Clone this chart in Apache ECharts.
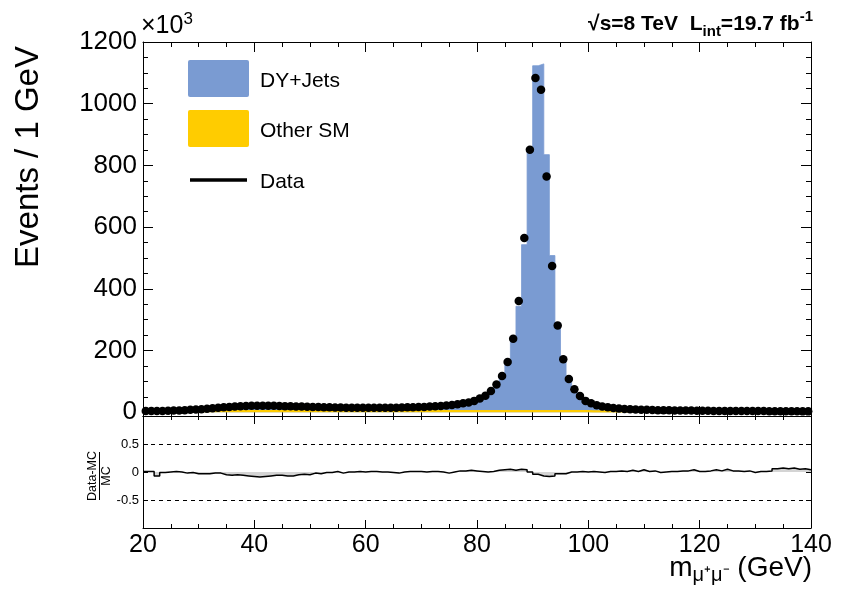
<!DOCTYPE html>
<html><head><meta charset="utf-8">
<script src="https://cdn.jsdelivr.net/npm/echarts@6/dist/echarts.min.js"></script>
<style>html,body{margin:0;padding:0;background:#fff}#c{width:845px;height:589px}</style>
</head><body><div id="c"></div>
<script>
// ---- data (values in thousands of events per 1 GeV bin, bins 20..140 GeV) ----
const binLow = [];
for (let m = 20; m < 140; m++) binLow.push(m);

const dataVals = [
  4, 4, 4.5, 4.5, 5, 5.5, 6, 7, 8, 9,
  10, 11.5, 13, 14.5, 16, 17, 18.5, 19.5, 20.5, 21,
  21.5, 21.5, 21.5, 21, 20.5, 20, 19.5, 19, 18.5, 18,
  17.5, 17, 16.5, 16, 15.5, 15.5, 15, 15, 14.5, 14.5,
  14.5, 14.5, 14.5, 14.5, 15, 15, 15.5, 16, 16.5, 17,
  17.5, 18.5, 19.5, 20.5, 22, 24, 26, 29, 32, 37,
  45, 54, 69, 90, 118, 163, 238, 361, 565, 851,
  1083, 1045, 764, 474, 281, 172, 108, 75, 52.5, 37,
  29, 23, 19, 16, 14, 12.5, 11, 10, 9, 8.5,
  8, 7.5, 7, 6.5, 6.5, 6, 6, 5.5, 5.5, 5,
  5, 5, 4.5, 4.5, 4.5, 4.5, 4, 4, 4, 4,
  4, 4, 3.5, 3.5, 3.5, 3.5, 3.5, 3.5, 3, 3
];

const dyVals = [
  0.5, 0.5, 1.3, 1.0, 1.5, 1.9, 2.5, 3.6, 4.6, 5.8,
  6.3, 7.9, 9.3, 10.8, 12.8, 14.1, 15.5, 16.7, 18.0, 18.8,
  19.6, 19.4, 19.1, 18.3, 17.8, 17.5, 17.0, 16.0, 15.3, 14.9,
  13.9, 13.5, 12.7, 12.2, 11.3, 11.8, 11.0, 11.0, 10.4, 10.5,
  10.4, 10.4, 10.5, 10.5, 11.2, 11.3, 11.5, 11.8, 12.3, 12.8,
  13.5, 14.3, 15.3, 16.5, 18.4, 20.0, 21.5, 24.4, 27.1, 32.3,
  40.1, 49.5, 63.8, 82.9, 109, 150.7, 226.5, 339.3, 538.8, 846.5,
  1118.5, 1124.5, 830.5, 503.5, 285.2, 172.8, 103.5, 70.5, 47.5, 32.5,
  25.2, 19.5, 15.7, 12.3, 10.4, 8.8, 7.4, 6.2, 5.4, 4.7,
  4.4, 3.9, 3.6, 3.0, 2.9, 2.4, 2.4, 1.9, 1.8, 1.5,
  2.45, 2.4, 1.8, 1.9, 1.8, 1.9, 1.4, 1.5, 1.4, 1.5,
  1.5, 1.5, 0.9, 0.8, 0.8, 0.8, 0.8, 0.8, 0.3, 0.4
];

const otherVals = [
  3.5, 3.5, 3.5, 3.5, 3.5, 3.5, 3.5, 3.5, 3.5, 3.5,
  4, 4, 4, 4, 4, 4, 4, 4, 4, 4,
  4, 4, 4, 4, 4, 4, 4, 4, 4, 4,
  4, 4, 4, 4, 4, 4, 4, 4, 4, 4,
  4, 4, 4, 4, 4, 4, 4, 4, 4, 4,
  4, 4, 4, 4, 4, 4, 4, 4, 4, 4,
  4.5, 4.5, 4.5, 4.5, 4.5, 4.5, 4.5, 4.5, 4.5, 4.5,
  4.5, 4.5, 4.5, 4.5, 4.5, 4.5, 4.5, 4.5, 4.5, 4.5,
  3.5, 3.5, 3.5, 3.5, 3.5, 3.5, 3.5, 3.5, 3.5, 3.5,
  3.5, 3.5, 3.5, 3.5, 3.5, 3.5, 3.5, 3.5, 3.5, 3.5,
  2.5, 2.5, 2.5, 2.5, 2.5, 2.5, 2.5, 2.5, 2.5, 2.5,
  2.5, 2.5, 2.5, 2.5, 2.5, 2.5, 2.5, 2.5, 2.5, 2.5
];

// (Data-MC)/MC per bin
const ratioVals = [
  0.01, 0.01, -0.07, -0.01, 0, 0.01, 0, -0.02, -0.01, -0.03,
  -0.03, -0.03, -0.02, -0.02, -0.05, -0.06, -0.05, -0.06, -0.07, -0.08,
  -0.09, -0.08, -0.07, -0.06, -0.06, -0.07, -0.07, -0.05, -0.04, -0.05,
  -0.02, -0.03, -0.01, -0.01, 0.01, -0.02, 0, 0, 0.01, 0,
  0.01, 0.01, 0, 0, -0.01, -0.02, 0, 0.01, 0.01, 0.01,
  0, 0.01, 0.01, 0, -0.02, 0, 0.02, 0.02, 0.03, 0.02,
  0.01, 0, 0.01, 0.03, 0.04, 0.05, 0.03, 0.05, 0.04, 0,
  -0.04, -0.07, -0.08, -0.07, -0.03, -0.03, 0, 0, 0.01, 0,
  0.01, 0, -0.01, 0.01, 0.01, 0.02, 0.01, 0.03, 0.01, 0.04,
  0.01, 0.02, -0.01, 0, 0.01, 0.01, 0.02, 0.02, 0.04, 0.01,
  0.01, 0.02, 0.04, 0.02, 0.05, 0.02, 0.02, 0.01, 0.02, -0.01,
  0.01, 0.01, 0.02, 0.06, 0.07, 0.06, 0.07, 0.05, 0.06, 0.04
];

const xTickVals = [20, 40, 60, 80, 100, 120, 140];
const yLabelVals = [0, 200, 400, 600, 800, 1000, 1200];
const yMinorVals = [];
for (let v = 0; v <= 1200; v += 50) yMinorVals.push(v);
const ratioLabelVals = [-0.5, 0, 0.5];

// ---- chart ----
const FONT = '"Liberation Sans", Arial, Helvetica, sans-serif';
const BLUE = '#7a9bd2';
const YELLOW = '#ffcc00';
const chart = echarts.init(document.getElementById('c'), null, {renderer: 'canvas'});
const cats = binLow.map(String);
const lastEdge = binLow[binLow.length - 1] + 1;
function stepSeries(vals) {
  const pts = binLow.map((b, i) => [b, vals[i]]);
  pts.push([lastEdge, vals[vals.length - 1]]);
  return pts;
}
// stacked MC: DY+Jets drawn on top of Other SM
const mcTotal = dyVals.map((v, i) => v + otherVals[i]);

const blk = {color: '#000', width: 1};
function valX(grid, pos, showLabel, tickLen, minorLen) {
  return {
    type: 'value', gridIndex: grid, position: pos,
    min: xTickVals[0], max: xTickVals[xTickVals.length - 1], interval: 20,
    axisLine: {show: true, onZero: false, lineStyle: blk},
    axisTick: {show: true, inside: true, length: tickLen, lineStyle: blk},
    minorTick: {show: true, splitNumber: 4, length: minorLen, lineStyle: blk},
    splitLine: {show: false},
    axisLabel: showLabel ? {show: true, fontSize: 25, color: '#000', fontFamily: FONT, margin: 5,
                            formatter: v => String(v)} : {show: false}
  };
}
function mainY(pos, major, lineShow, labels) {
  return {
    type: 'value', gridIndex: 0, position: pos, min: -12, max: 1200,
    axisLine: {show: lineShow, onZero: false, lineStyle: blk},
    axisTick: {show: true, inside: true, length: major ? 10 : 5, lineStyle: blk,
               customValues: major ? yLabelVals : yMinorVals},
    axisLabel: labels ? {show: true, customValues: yLabelVals, fontSize: 26, color: '#000',
                         fontFamily: FONT, margin: 6, formatter: v => String(v)} : {show: false},
    splitLine: {show: false}
  };
}

chart.setOption({
  animation: false,
  backgroundColor: '#fff',
  grid: [
    {left: 143, right: 34, top: 42, height: 374},
    {left: 143, right: 34, top: 416, height: 112}
  ],
  xAxis: [
    valX(0, 'bottom', false, 10, 5),
    valX(0, 'top', false, 10, 5),
    {type: 'category', gridIndex: 0, data: cats, show: false, boundaryGap: true},
    valX(1, 'bottom', true, 8, 4),
    valX(1, 'top', false, 8, 4)
  ],
  yAxis: [
    mainY('left', true, true, true),
    mainY('left', false, false, false),
    mainY('right', true, true, false),
    mainY('right', false, false, false),
    {
      type: 'value', gridIndex: 1, position: 'left', min: -1, max: 1,
      axisLine: {show: true, onZero: false, lineStyle: blk},
      axisTick: {show: true, inside: true, length: 5, lineStyle: blk, customValues: ratioLabelVals},
      axisLabel: {show: true, customValues: ratioLabelVals, fontSize: 13, color: '#000', fontFamily: FONT, margin: 4,
                  formatter: v => String(v)},
      splitLine: {show: false}
    },
    {
      type: 'value', gridIndex: 1, position: 'right', min: -1, max: 1,
      axisLine: {show: true, onZero: false, lineStyle: blk},
      axisTick: {show: true, inside: true, length: 5, lineStyle: blk, customValues: ratioLabelVals},
      axisLabel: {show: false},
      splitLine: {show: false}
    }
  ],
  series: [
    {
      name: 'DY+Jets', type: 'line', step: 'end', xAxisIndex: 0, yAxisIndex: 0,
      data: stepSeries(mcTotal), symbol: 'none',
      lineStyle: {color: BLUE, width: 0.8}, areaStyle: {color: BLUE, opacity: 1, origin: 0}, z: 2
    },
    {
      name: 'Other SM', type: 'line', step: 'end', xAxisIndex: 0, yAxisIndex: 0,
      data: stepSeries(otherVals), symbol: 'none',
      lineStyle: {color: YELLOW, width: 2}, areaStyle: {color: YELLOW, opacity: 1, origin: 0}, z: 3
    },
    {
      name: 'Data', type: 'scatter', xAxisIndex: 2, yAxisIndex: 0,
      data: dataVals, symbol: 'circle', symbolSize: 8.5,
      itemStyle: {color: '#000', opacity: 1}, z: 5
    },
    {
      name: 'ratio', type: 'line', xAxisIndex: 3, yAxisIndex: 4,
      data: stepSeries(ratioVals), step: 'end', symbol: 'none',
      lineStyle: {color: '#000', width: 1.5},
      areaStyle: {color: 'rgba(120,120,120,0.45)', origin: 0}, z: 3,
      markLine: {
        silent: true, symbol: 'none', label: {show: false},
        lineStyle: {type: [4, 4], color: '#000', width: 1},
        data: [{yAxis: 0.5}, {yAxis: -0.5}]
      }
    }
  ],
  graphic: [
    // legend
    {type: 'rect', shape: {x: 188, y: 60, width: 61, height: 37, r: 2}, style: {fill: BLUE}},
    {type: 'rect', shape: {x: 188, y: 110, width: 61, height: 37, r: 2}, style: {fill: YELLOW}},
    {type: 'line', shape: {x1: 190, y1: 180, x2: 247, y2: 180}, style: {stroke: '#000', lineWidth: 3.5}},
    {type: 'text', style: {text: 'DY+Jets', x: 260, y: 81, fontSize: 21, fontFamily: FONT, fill: '#000', verticalAlign: 'middle'}},
    {type: 'text', style: {text: 'Other SM', x: 260, y: 131, fontSize: 21, fontFamily: FONT, fill: '#000', verticalAlign: 'middle'}},
    {type: 'text', style: {text: 'Data', x: 260, y: 182, fontSize: 21, fontFamily: FONT, fill: '#000', verticalAlign: 'middle'}},
    // y title
    {type: 'text', x: 29, y: 157, rotation: Math.PI / 2,
     style: {text: 'Events / 1 GeV', x: 0, y: 0, align: 'center', verticalAlign: 'middle', fontSize: 33, fontFamily: FONT, fill: '#000'}},
    // x10^3
    {type: 'text', style: {text: '{b|×10}{p|3}', x: 141, y: 26, verticalAlign: 'middle', fill: '#000',
      rich: {b: {fontSize: 25, fontFamily: FONT, lineHeight: 30, verticalAlign: 'middle'},
             p: {fontSize: 17, fontFamily: FONT, lineHeight: 16, verticalAlign: 'top'}}}},
    // energy / lumi
    {type: 'text', style: {text: '{b|√s=8 TeV  L}{s|int}{b|=19.7 fb}{p|-1}', x: 813, y: 24, align: 'right', verticalAlign: 'middle', fill: '#000',
      rich: {b: {fontSize: 21, fontWeight: 'bold', fontFamily: FONT, lineHeight: 30, verticalAlign: 'middle'},
             s: {fontSize: 15, fontWeight: 'bold', fontFamily: FONT, lineHeight: 14, verticalAlign: 'bottom'},
             p: {fontSize: 15, fontWeight: 'bold', fontFamily: FONT, lineHeight: 16, verticalAlign: 'top'}}}},
    // x title
    {type: 'text', style: {text: '{b|m}{s|μ⁺μ⁻}{b| (GeV)}', x: 812, y: 568, align: 'right', verticalAlign: 'middle', fill: '#000',
      rich: {b: {fontSize: 28, fontFamily: FONT, lineHeight: 34, verticalAlign: 'middle'},
             s: {fontSize: 20, fontFamily: FONT, lineHeight: 16, verticalAlign: 'bottom'}}}},
    // ratio title (fraction)
    {type: 'group', x: 99.5, y: 476, rotation: Math.PI / 2, children: [
      {type: 'text', style: {text: 'Data-MC', x: 0, y: -6.5, align: 'center', verticalAlign: 'middle', fontSize: 12.5, fontFamily: FONT, fill: '#000'}},
      {type: 'line', shape: {x1: -24, y1: 0, x2: 24, y2: 0}, style: {stroke: '#000', lineWidth: 1}},
      {type: 'text', style: {text: 'MC', x: 0, y: 7.5, align: 'center', verticalAlign: 'middle', fontSize: 12.5, fontFamily: FONT, fill: '#000'}}
    ]}
  ]
});
</script>
</body></html>
